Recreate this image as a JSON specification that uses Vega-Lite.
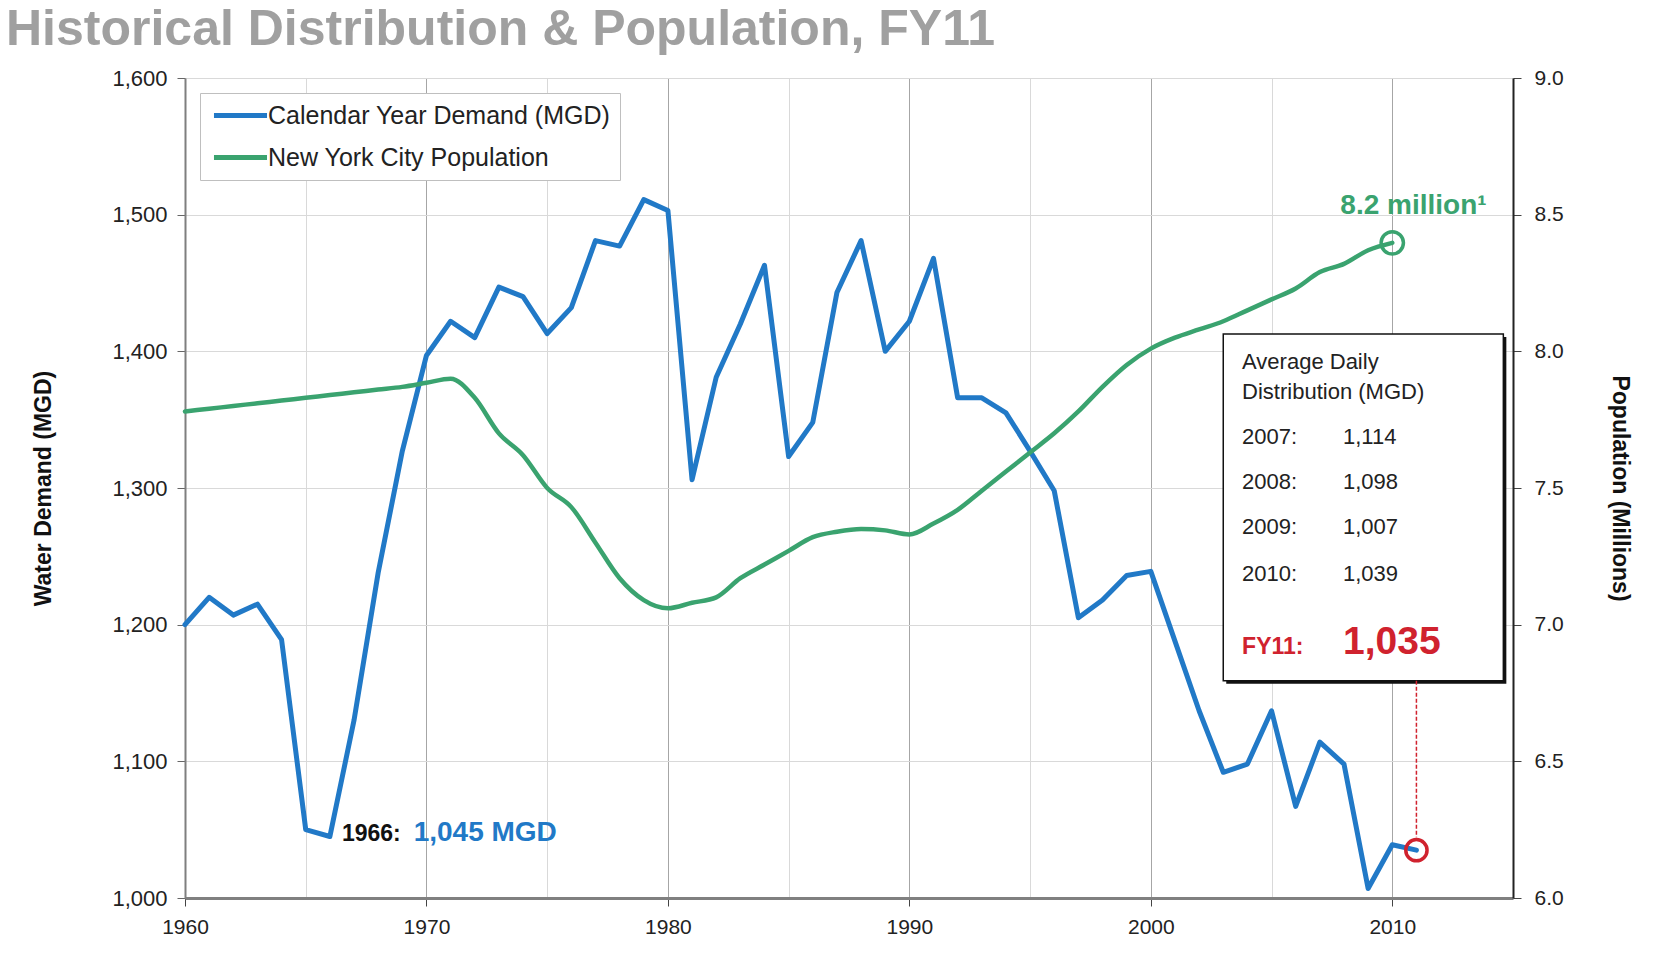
{
  "$schema": "https://vega.github.io/schema/vega-lite/v6.json",
  "width": 1328,
  "height": 820,
  "autosize": "none",
  "padding": {"left": 185, "top": 78, "right": 151, "bottom": 68},
  "background": "white",
  "title": {
    "text": "Historical Distribution & Population, FY11",
    "anchor": "start",
    "frame": "group",
    "dx": -179,
    "offset": -28,
    "baseline": "alphabetic",
    "font": "Liberation Sans",
    "fontSize": 50,
    "fontWeight": "bold",
    "color": "#a0a0a0"
  },
  "datasets": {
    "demand": [
      {"year": 1960, "value": 1200}, {"year": 1961, "value": 1220}, {"year": 1962, "value": 1207},
      {"year": 1963, "value": 1215}, {"year": 1964, "value": 1189}, {"year": 1965, "value": 1050},
      {"year": 1966, "value": 1045}, {"year": 1967, "value": 1130}, {"year": 1968, "value": 1238},
      {"year": 1969, "value": 1327}, {"year": 1970, "value": 1397}, {"year": 1971, "value": 1422},
      {"year": 1972, "value": 1410}, {"year": 1973, "value": 1447}, {"year": 1974, "value": 1440},
      {"year": 1975, "value": 1413}, {"year": 1976, "value": 1432}, {"year": 1977, "value": 1481},
      {"year": 1978, "value": 1477}, {"year": 1979, "value": 1511}, {"year": 1980, "value": 1503},
      {"year": 1981, "value": 1306}, {"year": 1982, "value": 1381}, {"year": 1983, "value": 1420},
      {"year": 1984, "value": 1463}, {"year": 1985, "value": 1323}, {"year": 1986, "value": 1348},
      {"year": 1987, "value": 1443}, {"year": 1988, "value": 1481}, {"year": 1989, "value": 1400},
      {"year": 1990, "value": 1422}, {"year": 1991, "value": 1468}, {"year": 1992, "value": 1366},
      {"year": 1993, "value": 1366}, {"year": 1994, "value": 1355}, {"year": 1995, "value": 1327},
      {"year": 1996, "value": 1298}, {"year": 1997, "value": 1205}, {"year": 1998, "value": 1218},
      {"year": 1999, "value": 1236}, {"year": 2000, "value": 1239}, {"year": 2001, "value": 1188},
      {"year": 2002, "value": 1137}, {"year": 2003, "value": 1092}, {"year": 2004, "value": 1098},
      {"year": 2005, "value": 1137}, {"year": 2006, "value": 1067}, {"year": 2007, "value": 1114},
      {"year": 2008, "value": 1098}, {"year": 2009, "value": 1007}, {"year": 2010, "value": 1039},
      {"year": 2011, "value": 1035}
    ],
    "population": [
      {"year": 1960, "pop": 7.78}, {"year": 1961, "pop": 7.79}, {"year": 1962, "pop": 7.80},
      {"year": 1963, "pop": 7.81}, {"year": 1964, "pop": 7.82}, {"year": 1965, "pop": 7.83},
      {"year": 1966, "pop": 7.84}, {"year": 1967, "pop": 7.85}, {"year": 1968, "pop": 7.86},
      {"year": 1969, "pop": 7.87}, {"year": 1970, "pop": 7.885}, {"year": 1971, "pop": 7.90},
      {"year": 1972, "pop": 7.83}, {"year": 1973, "pop": 7.70}, {"year": 1974, "pop": 7.62},
      {"year": 1975, "pop": 7.50}, {"year": 1976, "pop": 7.43}, {"year": 1977, "pop": 7.30},
      {"year": 1978, "pop": 7.17}, {"year": 1979, "pop": 7.09}, {"year": 1980, "pop": 7.06},
      {"year": 1981, "pop": 7.08}, {"year": 1982, "pop": 7.10}, {"year": 1983, "pop": 7.17},
      {"year": 1984, "pop": 7.22}, {"year": 1985, "pop": 7.27}, {"year": 1986, "pop": 7.32},
      {"year": 1987, "pop": 7.34}, {"year": 1988, "pop": 7.35}, {"year": 1989, "pop": 7.345},
      {"year": 1990, "pop": 7.33}, {"year": 1991, "pop": 7.37}, {"year": 1992, "pop": 7.42},
      {"year": 1993, "pop": 7.49}, {"year": 1994, "pop": 7.56}, {"year": 1995, "pop": 7.63},
      {"year": 1996, "pop": 7.70}, {"year": 1997, "pop": 7.78}, {"year": 1998, "pop": 7.87},
      {"year": 1999, "pop": 7.95}, {"year": 2000, "pop": 8.01}, {"year": 2001, "pop": 8.05},
      {"year": 2002, "pop": 8.08}, {"year": 2003, "pop": 8.11}, {"year": 2004, "pop": 8.15},
      {"year": 2005, "pop": 8.19}, {"year": 2006, "pop": 8.23}, {"year": 2007, "pop": 8.29},
      {"year": 2008, "pop": 8.32}, {"year": 2009, "pop": 8.37}, {"year": 2010, "pop": 8.397}
    ],
    "notes": [
      {"kind": "box", "year": 2003.78, "value": 1387, "label": "Average Daily"},
      {"kind": "box", "year": 2003.78, "value": 1365, "label": "Distribution (MGD)"},
      {"kind": "box", "year": 2003.78, "value": 1332.1, "label": "2007:"},
      {"kind": "box", "year": 2007.96, "value": 1332.1, "label": "1,114"},
      {"kind": "box", "year": 2003.78, "value": 1299.2, "label": "2008:"},
      {"kind": "box", "year": 2007.96, "value": 1299.2, "label": "1,098"},
      {"kind": "box", "year": 2003.78, "value": 1266.3, "label": "2009:"},
      {"kind": "box", "year": 2007.96, "value": 1266.3, "label": "1,007"},
      {"kind": "box", "year": 2003.78, "value": 1232.1, "label": "2010:"},
      {"kind": "box", "year": 2007.96, "value": 1232.1, "label": "1,039"},
      {"kind": "fy", "year": 2003.78, "value": 1178.5, "label": "FY11:"},
      {"kind": "fybig", "year": 2007.96, "value": 1178.5, "label": "1,035"},
      {"kind": "minyear", "year": 1966.5, "value": 1041.9, "label": "1966:"},
      {"kind": "minval", "year": 1969.47, "value": 1041.9, "label": "1,045 MGD"}
    ],
    "box": [{"year": 2003.0, "year2": 2014.6, "value": 1412.6, "value2": 1158.9}],
    "leader": [{"year": 2011, "value": 1158.9, "value2": 1044.5}],
    "fy11": [{"year": 2011, "value": 1035}],
    "popnow": [{"year": 2010, "pop": 8.397, "label": "8.2 million¹", "labelYear": 2007.85, "labelPop": 8.501}]
  },
  "encoding": {
    "x": {
      "field": "year",
      "type": "quantitative",
      "scale": {"domain": [1960, 2015], "nice": false, "zero": false},
      "axis": {
        "title": null,
        "values": [1960, 1965, 1970, 1975, 1980, 1985, 1990, 1995, 2000, 2005, 2010, 2015],
        "format": "d",
        "labelExpr": "datum.value % 10 === 0 ? datum.label : ''",
        "labelFlush": false,
        "labelOverlap": false,
        "grid": true,
        "gridColor": {"condition": {"test": "datum.value % 10 === 0", "value": "#a6a6a6"}, "value": "#d9d9d9"},
        "tickColor": {"condition": {"test": "datum.value % 10 === 0", "value": "#444"}, "value": "transparent"},
        "tickSize": 8,
        "labelPadding": 10,
        "domainColor": "#808080",
        "domainWidth": 3
      }
    }
  },
  "layer": [
    {
      "encoding": {
        "y": {
          "field": "value",
          "type": "quantitative",
          "scale": {"domain": [1000, 1600], "nice": false, "zero": false},
          "axis": {
            "orient": "left",
            "title": "Water Demand (MGD)",
            "values": [1000, 1100, 1200, 1300, 1400, 1500, 1600],
            "format": ",d",
            "labelFontSize": 22,
            "grid": true,
            "gridColor": "#d9d9d9",
            "tickSize": 8,
            "labelPadding": 10,
            "titlePadding": 56,
            "domainColor": "#7f7f7f",
            "domainWidth": 2
          }
        }
      },
      "layer": [
        {
          "data": {"name": "demand"},
          "mark": {"type": "line", "strokeWidth": 5, "strokeJoin": "round", "strokeCap": "round"},
          "encoding": {
            "color": {
              "datum": "Calendar Year Demand (MGD)",
              "type": "nominal",
              "scale": {"domain": ["Calendar Year Demand (MGD)", "New York City Population"], "range": ["#2179c7", "#3aa36f"]},
              "legend": {
                "title": null,
                "orient": "none",
                "legendX": 15,
                "legendY": 15,
                "direction": "vertical",
                "symbolType": "M-2.5,0H2.5",
                "symbolSize": 450,
                "symbolStrokeWidth": 5,
                "symbolOffset": 18,
                "labelFont": "Liberation Sans",
                "labelFontSize": 25,
                "labelColor": "#222",
                "labelOffset": 14,
                "labelLimit": 600,
                "padding": 9,
                "rowPadding": 15,
                "strokeColor": "#bfbfbf",
                "fillColor": "white",
                "cornerRadius": 0
              }
            }
          }
        },
        {
          "data": {"name": "box"},
          "mark": {"type": "rect", "fill": "#111", "xOffset": 3, "x2Offset": 3, "yOffset": 3, "y2Offset": 3},
          "encoding": {"x2": {"field": "year2"}, "y2": {"field": "value2"}}
        },
        {
          "data": {"name": "box"},
          "mark": {"type": "rect", "fill": "white", "stroke": "#111", "strokeWidth": 1.5},
          "encoding": {"x2": {"field": "year2"}, "y2": {"field": "value2"}}
        },
        {
          "data": {"name": "notes"},
          "transform": [{"filter": "datum.kind === 'box'"}],
          "mark": {"type": "text", "align": "left", "baseline": "alphabetic", "font": "Liberation Sans", "fontSize": 22, "color": "#222"},
          "encoding": {"text": {"field": "label"}}
        },
        {
          "data": {"name": "notes"},
          "transform": [{"filter": "datum.kind === 'fy'"}],
          "mark": {"type": "text", "align": "left", "baseline": "alphabetic", "font": "Liberation Sans", "fontSize": 23, "fontWeight": "bold", "color": "#d0222e"},
          "encoding": {"text": {"field": "label"}}
        },
        {
          "data": {"name": "notes"},
          "transform": [{"filter": "datum.kind === 'fybig'"}],
          "mark": {"type": "text", "align": "left", "baseline": "alphabetic", "font": "Liberation Sans", "fontSize": 39, "fontWeight": "bold", "color": "#d0222e"},
          "encoding": {"text": {"field": "label"}}
        },
        {
          "data": {"name": "notes"},
          "transform": [{"filter": "datum.kind === 'minyear'"}],
          "mark": {"type": "text", "align": "left", "baseline": "alphabetic", "font": "Liberation Sans", "fontSize": 23, "fontWeight": "bold", "color": "#111"},
          "encoding": {"text": {"field": "label"}}
        },
        {
          "data": {"name": "notes"},
          "transform": [{"filter": "datum.kind === 'minval'"}],
          "mark": {"type": "text", "align": "left", "baseline": "alphabetic", "font": "Liberation Sans", "fontSize": 28, "fontWeight": "bold", "color": "#2179c7"},
          "encoding": {"text": {"field": "label"}}
        },
        {
          "data": {"name": "leader"},
          "mark": {"type": "rule", "color": "#d0222e", "strokeWidth": 1.5, "strokeDash": [4, 2]},
          "encoding": {"y2": {"field": "value2"}}
        },
        {
          "data": {"name": "fy11"},
          "mark": {"type": "point", "shape": "circle", "filled": false, "stroke": "#d0222e", "strokeWidth": 3.5, "size": 452, "opacity": 1}
        }
      ]
    },
    {
      "encoding": {
        "y": {
          "field": "pop",
          "type": "quantitative",
          "scale": {"domain": [6, 9], "nice": false, "zero": false},
          "axis": {
            "orient": "right",
            "title": "Population (Millions)",
            "values": [6, 6.5, 7, 7.5, 8, 8.5, 9],
            "format": ".1f",
            "grid": false,
            "tickSize": 8,
            "labelPadding": 13,
            "titlePadding": 44,
            "domainColor": "#222",
            "domainWidth": 2,
            "tickColor": "#444"
          }
        }
      },
      "layer": [
        {
          "data": {"name": "population"},
          "mark": {"type": "line", "strokeWidth": 4.5, "interpolate": "monotone", "strokeCap": "round"},
          "encoding": {
            "color": {
              "datum": "New York City Population",
              "type": "nominal",
              "scale": {"domain": ["Calendar Year Demand (MGD)", "New York City Population"], "range": ["#2179c7", "#3aa36f"]}
            }
          }
        },
        {
          "data": {"name": "popnow"},
          "mark": {"type": "point", "shape": "circle", "filled": false, "stroke": "#3aa36f", "strokeWidth": 3.5, "size": 500, "opacity": 1}
        },
        {
          "data": {"name": "popnow"},
          "mark": {"type": "text", "align": "left", "baseline": "alphabetic", "font": "Liberation Sans", "fontSize": 28, "fontWeight": "bold", "color": "#3aa36f"},
          "encoding": {
            "x": {"field": "labelYear", "type": "quantitative"},
            "y": {"field": "labelPop", "type": "quantitative"},
            "text": {"field": "label"}
          }
        }
      ]
    }
  ],
  "resolve": {"scale": {"y": "independent"}},
  "config": {
    "view": {"stroke": null},
    "axis": {
      "labelFont": "Liberation Sans",
      "labelFontSize": 21,
      "labelColor": "#222",
      "titleFont": "Liberation Sans",
      "titleFontSize": 23,
      "titleFontWeight": "bold",
      "titleColor": "#111",
      "tickColor": "#666",
      "gridWidth": 1
    }
  }
}
